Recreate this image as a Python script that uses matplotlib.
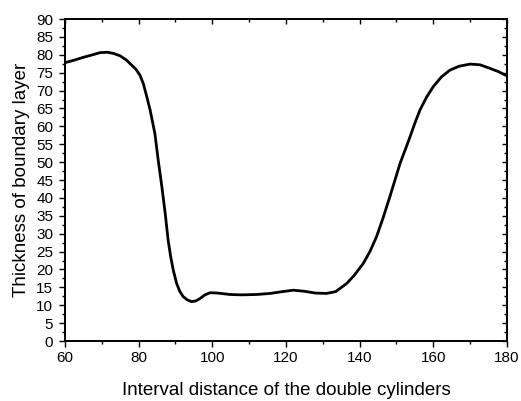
import matplotlib
matplotlib.use("Agg")
import matplotlib.pyplot as plt
from matplotlib.ticker import MultipleLocator

x = [60, 62.5, 65, 67.5, 69.5, 71.5, 73.1, 75, 76.7, 78.1, 79.3, 80.4, 81.3, 82.2, 83.1,
     84.4, 85.3, 86.3, 87.2, 88.0, 88.7, 89.4, 90.3, 91.2, 92.1, 93.2, 94.4, 95.5, 96.7,
     98.0, 99.4, 101.5, 104.8, 108, 112, 115.7, 119, 122, 125, 128, 131, 133.5, 136.5,
     138.5, 141.0, 142.8, 144.6, 146.4, 148.2, 149.6, 151.0, 152.4, 153.7, 155.0, 156.4,
     158.2, 160, 162.2, 164.5, 167, 170, 172.7, 175.4, 177.7, 180]
y = [77.8, 78.5, 79.3, 80.0, 80.6, 80.7, 80.4, 79.7, 78.5, 77.1, 75.9, 74.2, 71.8, 68.3, 64.6,
     58.0, 50.6, 43.1, 35.7, 28.2, 23.5, 19.8, 16.1, 13.8, 12.4, 11.5, 11.0, 11.2, 11.9,
     12.9, 13.5, 13.4, 13.0, 12.9, 13.0, 13.3, 13.8, 14.2, 13.9, 13.4, 13.3, 13.8, 16.1,
     18.3, 21.7, 25.0, 29.2, 34.5, 40.3, 45.0, 49.7, 53.5, 57.1, 60.9, 64.6, 68.2, 71.1,
     73.8, 75.7, 76.8, 77.4, 77.2, 76.2, 75.3, 74.1]

plt.rcParams['font.family'] = ['Liberation Sans', 'DejaVu Sans']

fig = plt.figure(figsize=(5.21, 4.01), dpi=100)
ax = fig.add_axes([0.1248, 0.1496, 0.973 - 0.1248, 0.9526 - 0.1496])
ax.plot(x, y, color='black', lw=2.0, solid_joinstyle='round')
ax.set_xlim(60, 180)
ax.set_ylim(0, 90)
ax.xaxis.set_major_locator(MultipleLocator(20))
ax.xaxis.set_minor_locator(MultipleLocator(10))
ax.yaxis.set_major_locator(MultipleLocator(5))
ax.yaxis.set_minor_locator(MultipleLocator(2.5))
ax.tick_params(which='major', direction='out', length=4.5, width=1.0, labelsize=11)
ax.tick_params(axis='y', which='major', pad=4)
ax.tick_params(axis='x', which='major', pad=3)
ax.tick_params(which='minor', direction='out', length=2.5, width=1.0)
for s in ax.spines.values():
    s.set_linewidth(1.1)

# mirrored inward ticks on top and right
axt = ax.twiny()
axt.set_xlim(ax.get_xlim())
axt.xaxis.set_major_locator(MultipleLocator(20))
axt.xaxis.set_minor_locator(MultipleLocator(10))
axt.tick_params(which='major', direction='in', length=3.5, width=1.0, labeltop=False)
axt.tick_params(which='minor', direction='in', length=2.0, width=1.0)
axr = ax.twinx()
axr.set_ylim(ax.get_ylim())
axr.yaxis.set_major_locator(MultipleLocator(5))
axr.yaxis.set_minor_locator(MultipleLocator(2.5))
axr.tick_params(which='major', direction='in', length=3.5, width=1.0, labelright=False)
axr.tick_params(which='minor', direction='in', length=2.0, width=1.0)
for a in (axt, axr):
    for s in a.spines.values():
        s.set_linewidth(1.1)

ax.set_xlabel('Interval distance of the double cylinders', fontsize=13.5, labelpad=12)
ax.set_ylabel('Thickness of boundary layer', fontsize=13.5, labelpad=4.5)

fig.savefig('out.png', dpi=100)
